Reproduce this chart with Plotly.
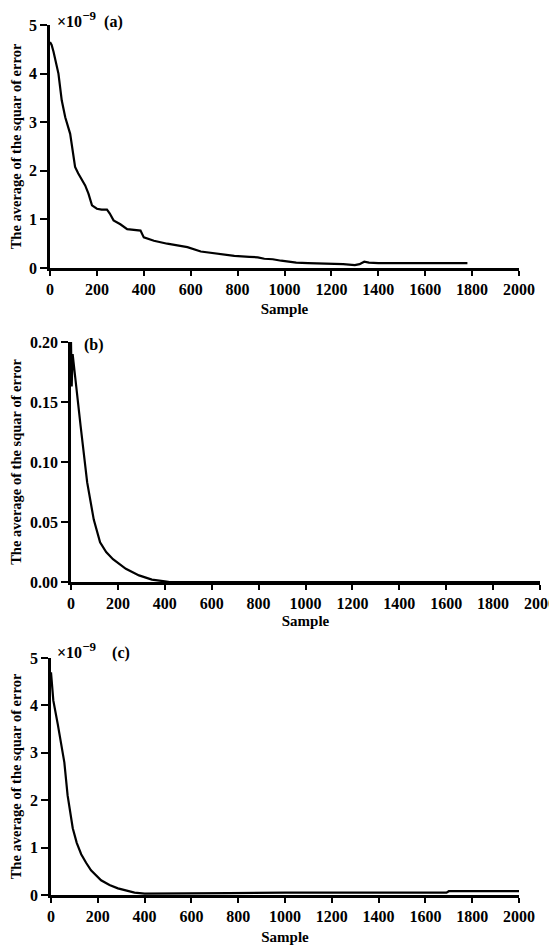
import plotly.graph_objects as go

# ---- data ----
a_x = [0, 7, 15, 25, 36, 50, 65, 86, 107, 120, 136, 150, 164, 179, 200, 220, 243, 255, 271, 300,
       329, 360, 386, 400, 443, 500, 550, 586, 643, 700, 786, 850, 886, 914, 950, 986, 1050, 1100,
       1200, 1250, 1300, 1320, 1340, 1360, 1400, 1600, 1780]
a_y = [4.65, 4.59, 4.45, 4.2, 4.0, 3.45, 3.1, 2.76, 2.08, 1.95, 1.8, 1.7, 1.53, 1.29, 1.22, 1.2, 1.2,
       1.12, 0.98, 0.9, 0.8, 0.78, 0.77, 0.63, 0.56, 0.5, 0.46, 0.43, 0.34, 0.3, 0.25, 0.23, 0.22,
       0.19, 0.18, 0.15, 0.11, 0.1, 0.09, 0.08, 0.06, 0.08, 0.13, 0.11, 0.1, 0.1, 0.1]

b_x = [0, 3, 7, 20, 41, 69, 97, 124, 150, 179, 234, 290, 345, 400, 420, 1000, 2000]
b_y = [0.2, 0.163, 0.19, 0.165, 0.13, 0.083, 0.052, 0.033, 0.025, 0.019, 0.011, 0.0055, 0.002,
       0.0005, 0.0, 0.0, 0.0]

c_x = [0, 5, 10, 29, 57, 71, 93, 110, 129, 150, 171, 214, 250, 286, 357, 400, 500, 760, 1000,
       1400, 1690, 1700, 2000]
c_y = [4.7, 4.3, 4.1, 3.6, 2.8, 2.1, 1.41, 1.1, 0.86, 0.68, 0.52, 0.31, 0.21, 0.14, 0.05, 0.03,
       0.03, 0.04, 0.05, 0.05, 0.05, 0.08, 0.08]

x_ticks = [0, 200, 400, 600, 800, 1000, 1200, 1400, 1600, 1800, 2000]
y_ticks_ac = [0, 1, 2, 3, 4, 5]
y_ticks_b = [0.0, 0.05, 0.10, 0.15, 0.20]
y_ticks_b_text = ["0.00", "0.05", "0.10", "0.15", "0.20"]

x_title = "Sample"
y_title = "The average of the squar of error"

# page is 557x945; the browser body has an 8px margin before the plot div
PAGE_W, PAGE_H = 557, 945
OFF = 8
W, H = PAGE_W - OFF, PAGE_H - OFF
FONT = dict(family="Liberation Serif", color="black", weight="bold")


def px_x(p):
    return (p - OFF) / W


def px_y(p):
    return 1 - (p - OFF) / H


fig = go.Figure()
line = dict(color="black", width=2.2)
fig.add_trace(go.Scatter(x=a_x, y=a_y, mode="lines", line=line, xaxis="x", yaxis="y",
                         showlegend=False))
fig.add_trace(go.Scatter(x=b_x, y=b_y, mode="lines", line=line, xaxis="x2", yaxis="y2",
                         showlegend=False))
fig.add_trace(go.Scatter(x=c_x, y=c_y, mode="lines", line=line, xaxis="x3", yaxis="y3",
                         showlegend=False))

common_axis = dict(showgrid=False, zeroline=False, showline=True, linecolor="black",
                   linewidth=2.8, ticks="outside", tickwidth=2, tickcolor="black",
                   automargin=False, tickfont=dict(size=16, **FONT))


def xax(d0, d1, anchor, standoff):
    return dict(common_axis, domain=[px_x(d0), px_x(d1)], anchor=anchor, range=[0, 2000],
                ticklen=5, tickvals=x_ticks,
                title=dict(text=x_title, font=dict(size=15, **FONT), standoff=standoff))


def yax(d_top, d_bot, anchor, rng, tv, tt, standoff):
    return dict(common_axis, domain=[px_y(d_bot), px_y(d_top)], anchor=anchor, range=rng,
                ticklen=7, tickvals=tv, ticktext=tt,
                title=dict(text=y_title, font=dict(size=14.5, **FONT), standoff=standoff))


SUP = "<sup><span style='font-size:13px'>−9</span></sup>"

fig.update_layout(
    template="none",
    width=W, height=H,
    margin=dict(l=0, r=0, t=0, b=0, autoexpand=False),
    paper_bgcolor="white", plot_bgcolor="white",
    xaxis=xax(50, 519, "y", 7),
    yaxis=yax(25, 268, "x", [0, 5], y_ticks_ac, [str(v) for v in y_ticks_ac], 5),
    xaxis2=xax(71, 540, "y2", 5),
    yaxis2=yax(342, 582, "x2", [0, 0.2], y_ticks_b, y_ticks_b_text, 5),
    xaxis3=xax(51, 519, "y3", 9),
    yaxis3=yax(658, 895, "x3", [0, 5], y_ticks_ac, [str(v) for v in y_ticks_ac], 5),
    annotations=[
        dict(text="×10" + SUP + "  (a)", x=px_x(55), y=px_y(19), xref="paper", yref="paper",
             xanchor="left", yanchor="middle", showarrow=False, font=dict(size=16, **FONT)),
        dict(text="(b)", x=px_x(82), y=px_y(345), xref="paper", yref="paper",
             xanchor="left", yanchor="middle", showarrow=False, font=dict(size=16, **FONT)),
        dict(text="×10" + SUP + "    (c)", x=px_x(55), y=px_y(650), xref="paper", yref="paper",
             xanchor="left", yanchor="middle", showarrow=False, font=dict(size=16, **FONT)),
    ],
)

fig.write_html("out.html")
